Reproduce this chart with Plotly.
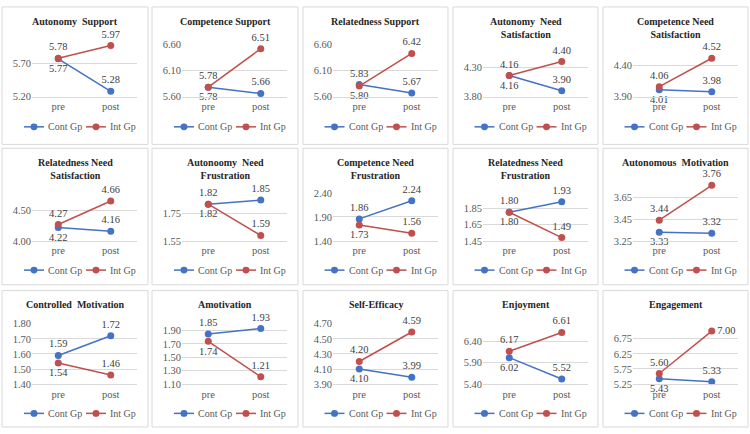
import plotly.graph_objects as go

W, H = 750, 434

# ---- data ----
phases = ["pre", "post"]

titles = [
    "Autonomy  Support", "Competence Support", "Relatedness Support",
    "Autonomy  Need<br>Satisfaction", "Competence Need<br>Satisfaction",
    "Relatedness Need<br>Satisfaction", "Autonoomy  Need<br>Frustration",
    "Competence Need<br>Frustration", "Relatedness Need<br>Frustration",
    "Autonomous  Motivation", "Controlled  Motivation", "Amotivation",
    "Self-Efficacy", "Enjoyment", "Engagement",
]

cont_pre = [5.77, 5.78, 5.83, 4.16, 4.01, 4.22, 1.82, 1.86, 1.80, 3.33, 1.59, 1.85, 4.10, 6.02, 5.43]
cont_post = [5.28, 5.66, 5.67, 3.90, 3.98, 4.16, 1.85, 2.24, 1.93, 3.32, 1.72, 1.93, 3.99, 5.52, 5.33]
int_pre = [5.78, 5.78, 5.80, 4.16, 4.06, 4.27, 1.82, 1.73, 1.80, 3.44, 1.54, 1.74, 4.20, 6.17, 5.60]
int_post = [5.97, 6.51, 6.42, 4.40, 4.52, 4.66, 1.59, 1.56, 1.49, 3.76, 1.46, 1.21, 4.59, 6.61, 7.00]

y_ticks = [
    [5.20, 5.70],
    [5.60, 6.10, 6.60],
    [5.60, 6.10, 6.60],
    [3.80, 4.30],
    [3.90, 4.40],
    [4.00, 4.50],
    [1.55, 1.75],
    [1.40, 1.90, 2.40],
    [1.45, 1.65, 1.85],
    [3.25, 3.45, 3.65],
    [1.40, 1.50, 1.60, 1.70, 1.80],
    [1.10, 1.30, 1.50, 1.70, 1.90],
    [3.90, 4.10, 4.30, 4.50, 4.70],
    [5.40, 5.90, 6.40],
    [5.25, 5.75, 6.25, 6.75],
]
y_max = [6.0, 6.6, 6.6, 4.45, 4.55, 4.7, 1.88, 2.4, 1.97, 3.8, 1.8, 1.95, 4.7, 6.7, 7.05]

# which series has its "pre" label above the point
upper_at_pre = ["int", "int", "cont", "int", "int", "int", "cont", "cont", "cont",
                "int", "cont", "cont", "int", "int", "int"]

# ---- layout (pixels) ----
col_x = [(2, 148), (152, 298), (303, 448), (453, 598), (603, 748)]
row_y = [(2, 143), (147, 287), (293, 433)]
bottom_rel = [92, 95, 96]          # lowest gridline inside each row
legend_rel = [123, 125, 126]
top_rel = [37.6, 38, 38, 53, 50.7, 51.6, 49, 46, 51.4, 33.5, 34, 37.6, 34, 39, 40]

BLUE = "#4472C4"
RED = "#C0504D"
GRID = "#D9D9D9"
FONT = "Liberation Serif, Times New Roman, DejaVu Serif, serif"


def px_x(x):
    return x / W


def px_y(y):
    return 1 - y / H


fig = go.Figure()
shapes = []
annotations = []

for i in range(15):
    r, c = divmod(i, 5)
    x0, x1 = col_x[c]
    y0, y1 = row_y[r]
    ax = "" if i == 0 else str(i + 1)

    # panel frame
    shapes.append(dict(type="rect", xref="paper", yref="paper",
                       x0=px_x(x0), x1=px_x(x1), y0=px_y(y1), y1=px_y(y0),
                       line=dict(color=GRID, width=1), fillcolor="white", layer="below"))

    fig.update_layout({
        f"xaxis{ax}": dict(domain=[px_x(x0 + 30), px_x(x0 + 135)], anchor=f"y{ax}",
                           type="category", categoryorder="array", categoryarray=phases,
                           range=[-0.5, 1.5], showgrid=False, zeroline=False,
                           showline=True, linecolor=GRID, ticks="",
                           tickfont=dict(family=FONT, size=10.5, color="#595959"),
                           fixedrange=True),
        f"yaxis{ax}": dict(domain=[px_y(y0 + bottom_rel[r]), px_y(y0 + top_rel[i])],
                           anchor=f"x{ax}", range=[y_ticks[i][0], y_max[i]],
                           tickvals=y_ticks[i], tickformat=".2f", showgrid=True,
                           gridcolor=GRID, gridwidth=1, zeroline=False, showline=False,
                           ticks="", tickfont=dict(family=FONT, size=10.5, color="#595959"),
                           fixedrange=True),
    })

    series = [("cont", "Cont Gp", cont_pre[i], cont_post[i], BLUE),
              ("int", "Int Gp", int_pre[i], int_post[i], RED)]
    for key, name, pre, post, color in series:
        pre_pos = "top center" if upper_at_pre[i] == key else "bottom center"
        post_pos = "top center"
        if i == 14 and key == "int":
            post_pos = "middle right"   # label pushed aside at the top edge
        fig.add_trace(go.Scatter(
            x=phases, y=[pre, post], xaxis=f"x{ax}", yaxis=f"y{ax}",
            mode="lines+markers+text", name=name,
            text=[f"{pre:.2f}", f"{post:.2f}"], textposition=[pre_pos, post_pos],
            textfont=dict(family=FONT, size=10.5, color="#404040"),
            line=dict(color=color, width=1.5), marker=dict(color=color, size=7),
            cliponaxis=False, showlegend=False, hoverinfo="skip"))

    # title
    annotations.append(dict(xref="paper", yref="paper", x=px_x((x0 + x1) / 2),
                            y=px_y(y0 + 7), yanchor="top", xanchor="center",
                            text=f"<b>{titles[i]}</b>", showarrow=False,
                            font=dict(family=FONT, size=10, color="#262626")))

    # hand-drawn legend (Excel style, short keys)
    cx = (x0 + x1) / 2
    ly = y0 + legend_rel[r]
    for off, name, color in [(-51, "Cont Gp", BLUE), (11, "Int Gp", RED)]:
        shapes.append(dict(type="line", xref="paper", yref="paper",
                           x0=px_x(cx + off), x1=px_x(cx + off + 20),
                           y0=px_y(ly), y1=px_y(ly), line=dict(color=color, width=1.5)))
        shapes.append(dict(type="circle", xref="paper", yref="paper",
                           x0=px_x(cx + off + 6.5), x1=px_x(cx + off + 13.5),
                           y0=px_y(ly + 3.5), y1=px_y(ly - 3.5),
                           line=dict(color=color, width=0), fillcolor=color))
        annotations.append(dict(xref="paper", yref="paper", x=px_x(cx + off + 22),
                                y=px_y(ly), xanchor="left", yanchor="middle",
                                text=name, showarrow=False,
                                font=dict(family=FONT, size=10, color="#595959")))

fig.update_layout(
    width=W, height=H,
    margin=dict(l=0, r=0, t=0, b=0),
    paper_bgcolor="white", plot_bgcolor="white",
    shapes=shapes, annotations=annotations,
    showlegend=False,
)

# the page body has a default 8px margin; drop it so the figure fills the window
fig.write_html("out.html", config={"displayModeBar": False},
               post_script="document.body.style.margin='0';")
